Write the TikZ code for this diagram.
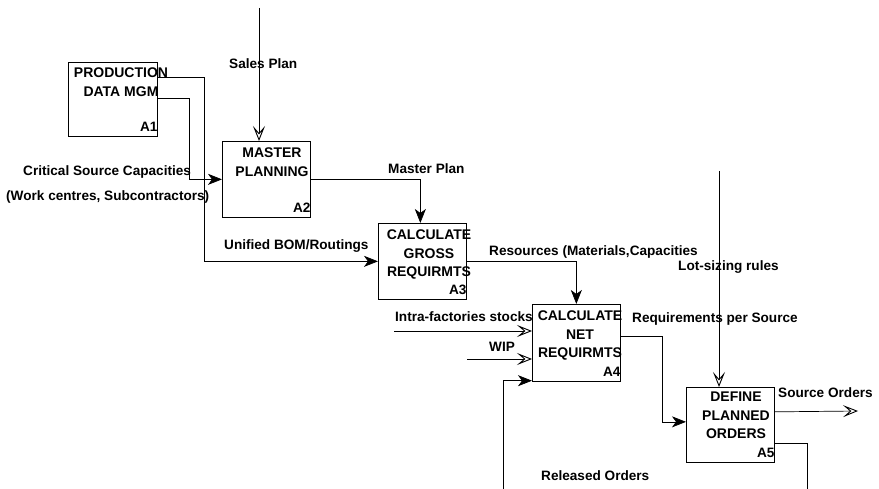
\documentclass[tikz,border=0pt]{standalone}
\usepackage{fontspec}
\setmainfont{Liberation Sans}
\usetikzlibrary{arrows.meta}
\tikzset{
  box/.style={draw, line width=0.7pt, anchor=north west, inner sep=0pt, minimum width=88pt, minimum height=76pt},
  boxtext/.style={anchor=north, inner sep=0pt, align=center, font=\fontsize{14}{18.7}\selectfont\bfseries},
  lbl/.style={anchor=base west, inner sep=0pt, font=\fontsize{13.6}{15}\selectfont\bfseries},
  num/.style={anchor=base east, inner sep=0pt, font=\fontsize{13.6}{15}\selectfont\bfseries},
  fa/.style={line width=0.7pt, -{Stealth[length=14pt,width=11pt,inset=4pt]}},
  ha/.style={line width=0.7pt, -{Stealth[open,length=15pt,width=12pt,inset=7pt,line width=0.9pt]}},
  ln/.style={line width=0.7pt}
}
\begin{document}
\begin{tikzpicture}[x=1pt,y=-1pt]
\useasboundingbox[fill=white] (0,0) rectangle (879,489);
% boxes
\node[box, minimum width=89pt, minimum height=74pt] (a1) at (68,62) {};
\node[box] (a2) at (222,141) {};
\node[box] (a3) at (378,223) {};
\node[box, minimum height=77pt] (a4) at (532,304) {};
\node[box, minimum height=75pt] (a5) at (686,387) {};
% box texts
\node[boxtext] (t1) at (121,68) {PRODUCTION\\DATA MGM};
\node[boxtext] (t2) at (272,147.5) {MASTER\\PLANNING};
\node[boxtext] (t3) at (429,229.5) {CALCULATE\\GROSS\\REQUIRMTS};
\node[boxtext] (t4) at (580,310.5) {CALCULATE\\NET\\REQUIRMTS};
\node[boxtext] (t5) at (736,391.5) {DEFINE\\PLANNED\\ORDERS};
\node[num] (n1) at ([yshift=5pt]a1.south east) {A1};
\node[num] (n2) at ([yshift=5pt]a2.south east) {A2};
\node[num] (n3) at ([yshift=5pt]a3.south east) {A3};
\node[num] (n4) at ([yshift=5pt]a4.south east) {A4};
\node[num] (n5) at ([yshift=5pt]a5.south east) {A5};
% free ends
\coordinate (sp) at (259,8);
\coordinate (is) at (394,331);
\coordinate (wip) at (467,359);
\coordinate (ls) at (719,171);
\coordinate (so) at (858,411);
\coordinate (ro1) at (807,489);
\coordinate (ro2) at (503,489);
% connectors
\draw[ha] (sp) -- (sp |- a2.north);
\draw[fa] ([yshift=-15pt]a1.north east) -| ([xshift=-174pt]a3.west) -- (a3.west);
\draw[fa] ([yshift=-36pt]a1.north east) -| ([xshift=-33pt]a2.west) -- (a2.west);
\draw[fa] (a2.east) -| ([xshift=-2pt]a3.north);
\draw[fa] (a3.east) -| (a4.north);
\draw[ha] (is) -- (is -| a4.west);
\draw[ha] (wip) -- (wip -| a4.west);
\draw[fa] ([yshift=6pt]a4.east) -| ([xshift=-24pt,yshift=3pt]a5.west) -- ([yshift=3pt]a5.west);
\draw[ha] (ls) -- (ls |- a5.north);
\draw[ha] ([yshift=13pt]a5.east) -- (so);
\draw[ln] ([yshift=-18.5pt]a5.east) -| (ro1);
\draw[fa] (ro2) |- ([yshift=1pt]a4.south west);
% labels
\node[lbl] (l1) at (229,69) {Sales Plan};
\node[lbl] (l2) at (23,176) {Critical Source Capacities};
\node[lbl] (l3) at (6,201) {(Work centres, Subcontractors)};
\node[lbl] (l4) at (224,250) {Unified BOM/Routings};
\node[lbl] (l5) at (388,174) {Master Plan};
\node[lbl] (l6) at (489,256) {Resources (Materials,Capacities};
\node[lbl] (l7) at (395,322) {Intra-factories stocks};
\node[lbl] (l8) at (489,352) {WIP};
\node[lbl] (l9) at (632,323) {Requirements per Source};
\node[lbl] (l10) at (678,271) {Lot-sizing rules};
\node[lbl] (l11) at (778,397) {Source Orders};
\node[lbl] (l12) at (541,480) {Released Orders};
\end{tikzpicture}
\end{document}
